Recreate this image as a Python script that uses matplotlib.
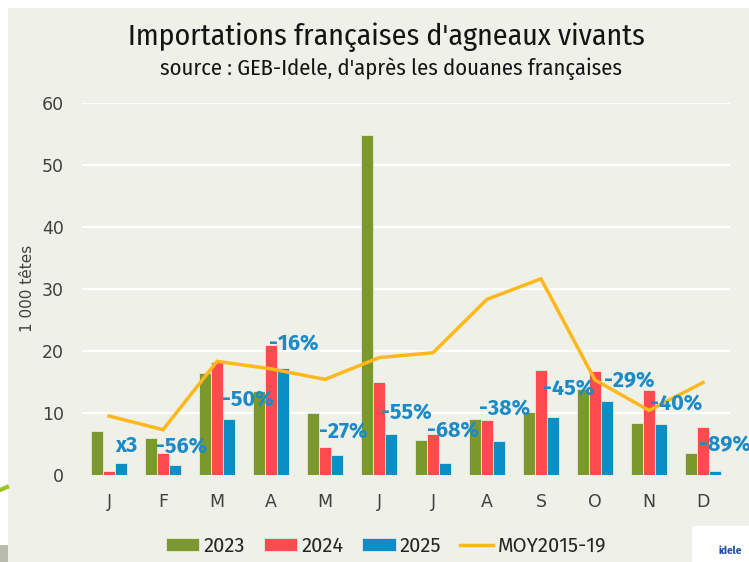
import numpy as np
import matplotlib
matplotlib.use("Agg")
import matplotlib.pyplot as plt
from matplotlib.patches import Rectangle, Patch
from matplotlib.lines import Line2D

months = ["J", "F", "M", "A", "M", "J", "J", "A", "S", "O", "N", "D"]
v2023 = [7.1, 6.0, 16.4, 13.6, 10.0, 54.8, 5.7, 9.0, 10.2, 13.8, 8.3, 3.6]
v2024 = [0.6, 3.6, 18.2, 20.9, 4.5, 14.9, 6.6, 8.9, 16.9, 16.7, 13.7, 7.7]
v2025 = [2.0, 1.6, 9.0, 17.3, 3.2, 6.6, 1.9, 5.4, 9.4, 11.9, 8.2, 0.6]
moy = [9.5, 7.3, 18.3, 17.1, 15.4, 18.9, 19.7, 28.3, 31.6, 15.3, 10.4, 14.9]
evol = ["x3", "-56%", "-50%", "-16%", "-27%", "-55%", "-68%", "-38%", "-45%", "-29%", "-40%", "-89%"]

# label placement (offset from the 2025 bar: category units, value units)
lab_dx = [0.11, -0.13, 0.09, -0.04, -0.11, 0.04, -0.11, -0.15, 0.04, 0.17, 0.02, -0.07]
lab_dy = [2.7, 2.9, 3.1, 3.8, 3.7, 3.4, 5.2, 5.2, 4.4, 3.2, 3.2, 4.2]

c23, c24, c25, cmoy = "#7A982C", "#FF4A4F", "#0A8EC6", "#FFB81C"
clab = "#1B8BC8"
bg = "#EFF0E7"
cond = ["Fira Sans Condensed", "Archivo Narrow", "DejaVu Sans"]
fira = ["Fira Sans", "DejaVu Sans"]

W, H = 749, 562
fig = plt.figure(figsize=(W / 100, H / 100), dpi=100)
fig.patch.set_facecolor("white")
fig.add_artist(Rectangle((8 / W, 0), 1 - 8 / W, 1 - 8 / H, transform=fig.transFigure,
                         facecolor=bg, edgecolor="none", zorder=0))
# cropped logos at the edges
fig.add_artist(Rectangle((0, 0), 8 / W, 17 / H, transform=fig.transFigure,
                         facecolor="#B9BBAE", edgecolor="none", zorder=1))
fig.add_artist(Line2D([0, 7 / W], [1 - 490 / H, 1 - 487 / H], transform=fig.transFigure,
                      color="#9CC31E", linewidth=3))

ax = fig.add_axes([82 / W, 1 - 475 / H, 648 / W, (475 - 102.5) / H])
ax.set_facecolor("none")
x = np.arange(len(months))
bw = 0.222
ec = "#E6EBDD"
ax.bar(x - bw, v2023, bw, color=c23, edgecolor=ec, linewidth=0.6, zorder=2)
ax.bar(x, v2024, bw, color=c24, edgecolor=ec, linewidth=0.6, zorder=2)
ax.bar(x + bw, v2025, bw, color=c25, edgecolor=ec, linewidth=0.6, zorder=2)
ax.plot(x, moy, color=cmoy, linewidth=2.5, zorder=3, solid_joinstyle="miter")

for i in range(len(months)):
    ax.text(i + lab_dx[i], v2025[i] + lab_dy[i], evol[i], color=clab, fontsize=15.5,
            family=fira, fontweight="bold", ha="left", va="center", zorder=4,
            clip_on=False)

ax.set_xlim(-0.5, 11.5)
ax.set_ylim(0, 60)
ax.set_yticks(range(0, 61, 10))
for yv in range(10, 61, 10):
    ax.axhline(yv, color="white", linewidth=1.5, zorder=1)
ax.set_xticks(x)
ax.set_xticklabels(months)
for s in ax.spines.values():
    s.set_visible(False)
ax.tick_params(length=0, labelsize=12.5, colors="#404040", pad=13)
ax.tick_params(axis="y", pad=13)
ax.set_ylabel("1 000 têtes", fontsize=11, color="#404040", labelpad=5)

fig.text(386 / W, 1 - 45 / H, "Importations françaises d'agneaux vivants",
         fontsize=21.5, family=cond, color="#141414", ha="center", va="baseline")
fig.text(391 / W, 1 - 75 / H, "source : GEB-Idele, d'après les douanes françaises",
         fontsize=16.2, family=cond, color="#141414", ha="center", va="baseline")

handles = [Patch(facecolor=c23, edgecolor=ec, linewidth=0.6),
           Patch(facecolor=c24, edgecolor=ec, linewidth=0.6),
           Patch(facecolor=c25, edgecolor=ec, linewidth=0.6),
           Line2D([0], [0], color=cmoy, linewidth=2.5)]
fig.legend(handles, ["2023", "2024", "2025", "MOY2015-19"], loc="center",
           bbox_to_anchor=(386 / W, 1 - 546 / H), ncol=4, frameon=False,
           prop={"family": fira, "size": 14.5}, handlelength=1.65, handleheight=0.6,
           columnspacing=0.95, handletextpad=0.2, labelcolor="#262626")

# bottom-right logo badge
fig.add_artist(Rectangle((692 / W, 0), 57 / W, 36 / H, transform=fig.transFigure,
                         facecolor="white", edgecolor="none", zorder=1))
fig.text(730 / W, 1 - 551 / H, "idele", fontsize=8, color="#1F4FA3", fontweight="bold",
         family=cond, ha="center", va="center")

fig.savefig("out.png", dpi=100, facecolor=fig.get_facecolor())
